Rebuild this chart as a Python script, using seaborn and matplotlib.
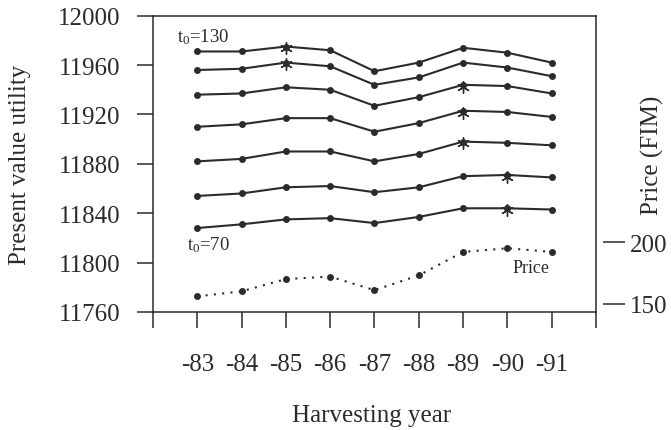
import numpy as np
import pandas as pd
import matplotlib
matplotlib.use("Agg")
import matplotlib.pyplot as plt
import seaborn as sns

# harvesting years (x axis labels)
years = ["-83", "-84", "-85", "-86", "-87", "-88", "-89", "-90", "-91"]

# present value utility, one row per starting age t0 (top = 130, bottom = 70)
t0_values = [130, 120, 110, 100, 90, 80, 70]
utility = [
    [11971, 11971, 11975, 11972, 11955, 11962, 11974, 11970, 11962],
    [11956, 11957, 11962, 11959, 11944, 11950, 11962, 11958, 11951],
    [11936, 11937, 11942, 11940, 11927, 11934, 11944, 11943, 11937],
    [11910, 11912, 11917, 11917, 11906, 11913, 11923, 11922, 11918],
    [11882, 11884, 11890, 11890, 11882, 11888, 11898, 11897, 11895],
    [11854, 11856, 11861, 11862, 11857, 11861, 11870, 11871, 11869],
    [11828, 11831, 11835, 11836, 11832, 11837, 11844, 11844, 11843],
]
# index of the optimal harvesting year for each row (marked with *)
optimum = [2, 2, 6, 6, 6, 7, 7]

# timber price (FIM), right axis
price = [156, 160, 170, 172, 161, 173, 192, 195, 192]

sns.set_theme(style="ticks")
plt.rcParams["font.family"] = ["Liberation Serif", "DejaVu Serif"]
plt.rcParams["mathtext.fontset"] = "custom"
plt.rcParams["mathtext.rm"] = "Liberation Serif"
plt.rcParams["mathtext.default"] = "regular"

ink = "#2b2b2b"
pos = np.arange(len(years))

rows = []
for t0, vals in zip(t0_values, utility):
    for p, v in zip(pos, vals):
        rows.append({"pos": p, "utility": v, "t0": t0})
df = pd.DataFrame(rows)
stars = pd.DataFrame({"pos": [pos[i] for i in optimum],
                      "utility": [utility[r][i] for r, i in enumerate(optimum)]})
df_price = pd.DataFrame({"pos": pos, "price": price})

fig = plt.figure(figsize=(6.71, 4.31), dpi=100)
ax = fig.add_axes([0.228, 0.2738, 0.6602, 0.6875])

sns.lineplot(data=df, x="pos", y="utility", units="t0", estimator=None,
             color=ink, lw=1.5, marker="o", markersize=5, markeredgewidth=0,
             ax=ax, legend=False)
ax.scatter(stars["pos"], stars["utility"] - 1.5, marker=(6, 2, 0), s=70,
           color=ink, linewidths=1.0, zorder=5)

ax.set_xlim(-1, 9)
ax.set_ylim(11760, 12000)
ax.set_xticks(np.arange(-1, 10))
ax.set_xticklabels([""] + years + [""])
ax.set_yticks(np.arange(11760, 12001, 40))
ax.set_xlabel("")
ax.set_ylabel("")
ax.tick_params(axis="both", direction="out", length=11.5, width=1.1,
               colors=ink, labelsize=18)
ax.tick_params(axis="y", pad=12)
ax.tick_params(axis="x", pad=18)
for s in ax.spines.values():
    s.set_visible(True)
    s.set_color(ink)
    s.set_linewidth(1.1)

ax2 = ax.twinx()
sns.lineplot(data=df_price, x="pos", y="price", color=ink, lw=1.5,
             linestyle=(0, (1, 3)), marker="o", markersize=5,
             markeredgewidth=0, ax=ax2, legend=False)
ax2.set_ylim(143.3, 383.6)
ax2.set_yticks([150, 200])
ax2.set_ylabel("")
ax2.spines["right"].set_position(("outward", 5))
for s in ax2.spines.values():
    s.set_visible(False)
ax2.tick_params(axis="y", direction="out", length=16, width=1.1,
                colors=ink, labelsize=18, pad=3.5)

ax.text(-0.46, 11983.5, "t$_0$=130", fontsize=13.5, color=ink,
        ha="left", va="center")
ax.text(-0.23, 11815, "t$_0$=70", fontsize=13.5, color=ink,
        ha="left", va="center")
ax.text(7.53, 11796, "Price", fontsize=13, color=ink,
        ha="center", va="center")

fig.text(0.0298, 0.617, "Present value utility", rotation=90, fontsize=18,
         color=ink, ha="center", va="center")
fig.text(0.9717, 0.640, "Price (FIM)", rotation=90, fontsize=18,
         color=ink, ha="center", va="center")
fig.text(0.554, 0.0348, "Harvesting year", fontsize=18, color=ink,
         ha="center", va="center")

fig.savefig("out.png", dpi=100)
